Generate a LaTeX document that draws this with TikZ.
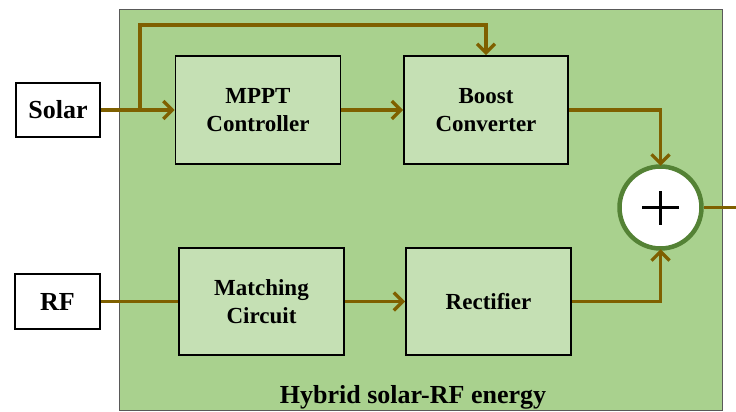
\documentclass[tikz,border=0pt]{standalone}
\usepackage{fontspec}
\setmainfont{Liberation Serif}
\usetikzlibrary{arrows.meta}
\definecolor{outerg}{HTML}{A9D18E}
\definecolor{innerg}{HTML}{C5E0B4}
\definecolor{wire}{HTML}{7F6000}
\definecolor{ringg}{HTML}{548235}
\begin{document}
\begin{tikzpicture}[x=1pt,y=-1pt,
  blockbox/.style={draw=black,line width=1.8pt,fill=innerg,align=center,
    inner sep=0pt,font=\fontsize{23}{27.5}\selectfont\bfseries},
  srcbox/.style={draw=black,line width=1.8pt,fill=white,align=center,
    inner sep=0pt,font=\fontsize{26}{30}\selectfont\bfseries},
  wireline/.style={draw=wire,line width=3.3pt},
  arr/.style={wireline,-{Straight Barb[length=9pt,width=18pt]}}]
\clip (0,0) rectangle (736,412);
\useasboundingbox (0,0) rectangle (736,412);
\fill[white] (0,0) rectangle (736,412);
% outer box
\node[draw=black!65,line width=1pt,fill=outerg,minimum width=603pt,minimum height=400pt,inner sep=0pt] (outer) at (420.5,210) {};
\node[anchor=base,font=\fontsize{26}{30}\selectfont\bfseries,inner sep=0pt] (title) at (413,403) {Hybrid solar-RF energy};
% source boxes
\node[srcbox,minimum width=84pt,minimum height=54pt] (solar) at (58,110) {Solar};
\node[srcbox,minimum width=85pt,minimum height=55pt] (rf) at (57.5,301.5) {RF};
% blocks
\node[blockbox,minimum width=165pt,minimum height=108pt] (mppt) at (258,110) {MPPT\\Controller};
\node[blockbox,minimum width=164pt,minimum height=108pt] (boost) at (486,110) {Boost\\Converter};
\node[blockbox,minimum width=165pt,minimum height=107pt] (match) at (261.5,301.5) {Matching\\Circuit};
\node[blockbox,minimum width=165pt,minimum height=107pt] (rect) at (488.5,301.5) {Rectifier};
% summing node
\node[draw=ringg,line width=4.5pt,fill=white,circle,minimum size=82pt,inner sep=0pt] (sum) at (660.5,207.5) {};
\draw[black,line width=2.4pt] ([xshift=-18.5pt]sum.center) -- ([xshift=18.5pt]sum.center)
  ([yshift=-17pt]sum.center) -- ([yshift=17pt]sum.center);
% wires
\coordinate (junc) at (140,110);
\coordinate (out) at (754,207.5);
\draw[arr] (solar.east) -- (mppt.west);
\draw[arr] (junc) -- (140,25) -- (boost.north |- 0,25) -- (boost.north);
\draw[arr] (mppt.east) -- (boost.west);
\draw[arr] (boost.east) -- (sum.north |- boost.east) -- ([yshift=-1.5pt]sum.north);
\draw[wireline] (rf.east) -- (match.west);
\draw[arr] (match.east) -- (rect.west);
\draw[arr] (rect.east) -- (sum.south |- rect.east) -- ([yshift=1.5pt]sum.south);
\draw[arr] (sum.east) -- (out);
\end{tikzpicture}
\end{document}
